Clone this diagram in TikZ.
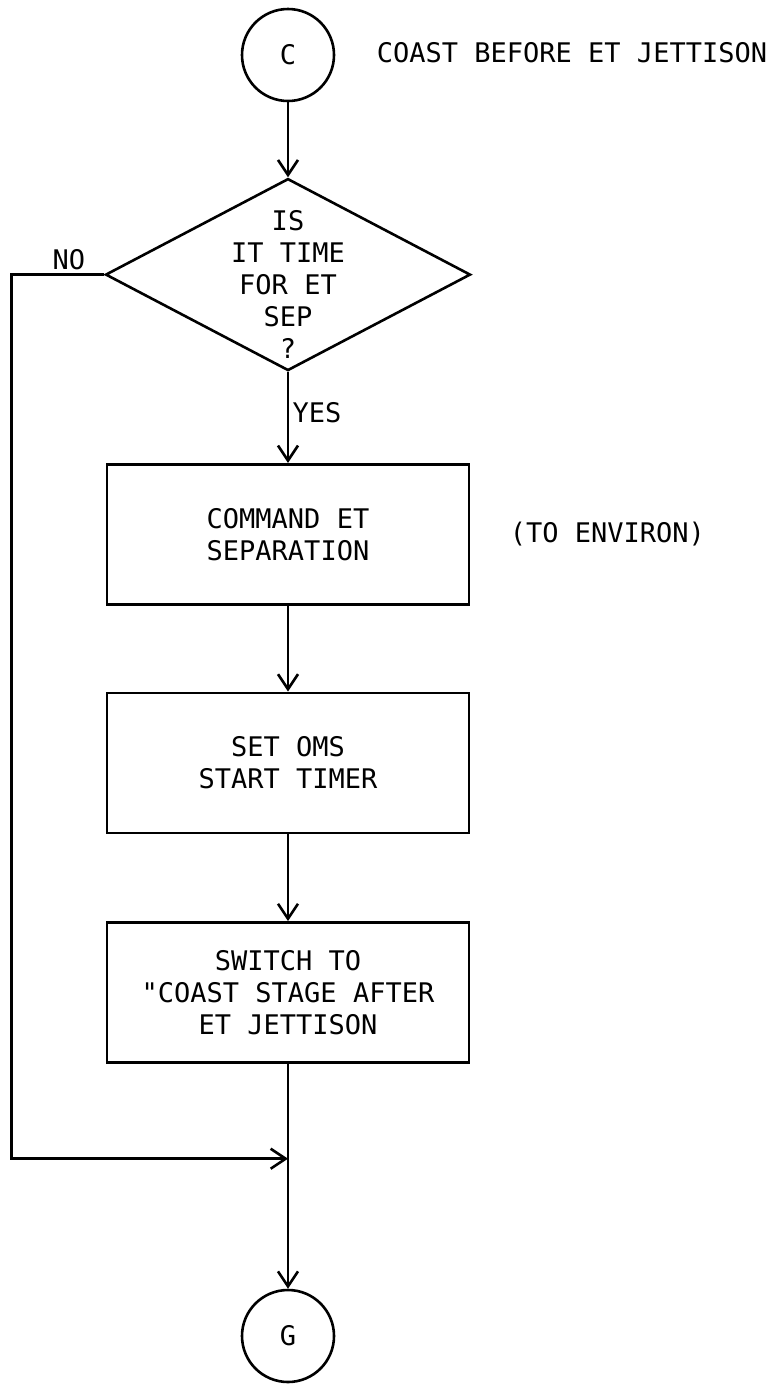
\documentclass[tikz,border=0pt]{standalone}
\usepackage{fontspec}
\setmainfont{DejaVu Sans Mono}[Ligatures=TeXOff]
\usepackage{tikz}
\usetikzlibrary{positioning,shapes.geometric,arrows.meta}

\begin{document}
\begin{tikzpicture}[x=1pt, y=-1pt, line width=2.6pt,
  font=\fontsize{27}{32}\selectfont,
  connector/.style={circle, draw, minimum size=92pt, inner sep=0pt},
  decision/.style={diamond, draw, minimum width=365pt, minimum height=192pt, inner sep=0pt},
  block/.style={rectangle, draw, minimum width=362pt, minimum height=140pt, align=center},
  flow/.style={-{Straight Barb[length=15pt, width=20pt]}}]

\useasboundingbox (0,0) rectangle (775,1385);

\node[connector] (C) at (288,55) {C};
\node (title) [right=37pt of C, yshift=2pt] {COAST BEFORE ET JETTISON};
\node[decision] (D) [below=75pt of C] {};
\node[align=center] (Dtext) at ([yshift=-10pt]D.center) {IS\\IT TIME\\FOR ET\\SEP\\?};

\node[block] (A1) [below=91pt of D] {COMMAND ET\\SEPARATION};
\node (env) [right=35pt of A1] {(TO ENVIRON)};
\node[block] (A2) [below=86pt of A1] {SET OMS\\START TIMER};
\node[block] (A3) [below=87pt of A2] {SWITCH TO\\"COAST STAGE AFTER\\ET JETTISON};
\node[connector] (G) [below=225pt of A3] {G};

\coordinate (nocorner) at ([xshift=-93pt]D.west);
\coordinate (join) at ([yshift=-95pt]A3.south);

\draw[flow] (C) -- (D);
\draw[flow] (D.south) -- node[right, pos=0.45] {YES} (A1);
\draw[flow] (A1) -- (A2);
\draw[flow] (A2) -- (A3);
\draw (A3) -- (join);
\draw[flow] (join) -- (G);
\draw[flow] (D.west) -- node[above, pos=0.38] {NO} (nocorner) |- (join);

\end{tikzpicture}
\end{document}
